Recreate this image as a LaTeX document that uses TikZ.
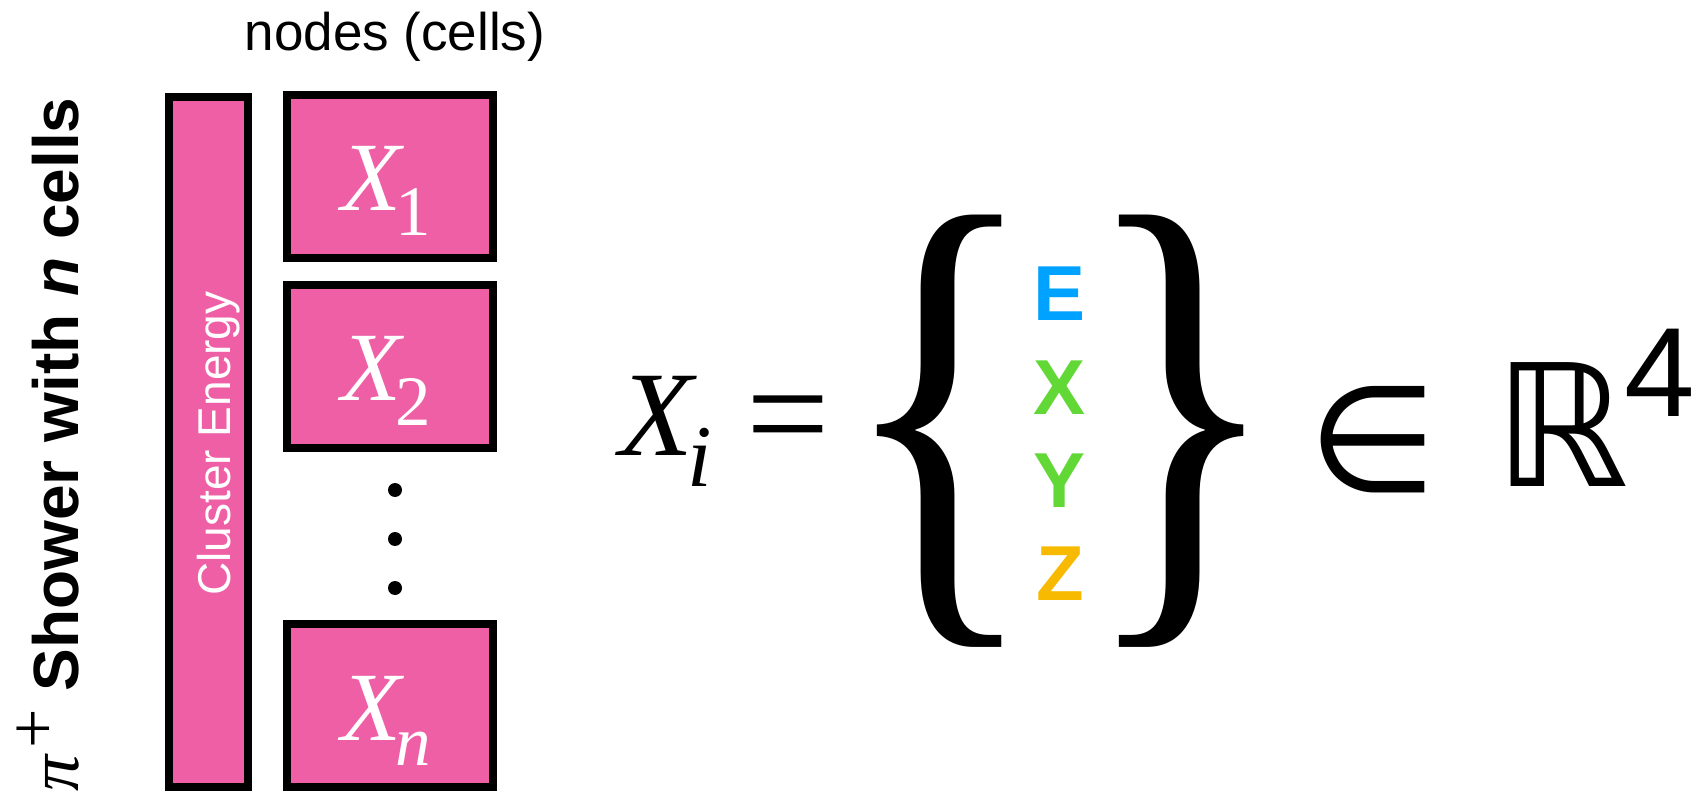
\documentclass[tikz,border=0pt]{standalone}
\usepackage{fontspec}
\setmainfont{Liberation Sans}
\newfontfamily\tms{Liberation Serif}
\newfontfamily\djv{DejaVu Sans}
\usetikzlibrary{positioning}

\definecolor{cellpink}{RGB}{239,95,166}
\definecolor{eblue}{RGB}{0,162,255}
\definecolor{xygreen}{RGB}{97,216,54}
\definecolor{zorange}{RGB}{248,186,0}

\newcommand{\fsz}[1]{\fontsize{#1}{#1}\selectfont}
\newcommand{\cellx}[1]{{\tms\fsz{98}\itshape X\kern-6pt\raisebox{-25pt}{\fsz{71}#1}}}

\begin{document}
\begin{tikzpicture}[x=1pt,y=-1pt,
  cell/.style={draw,line width=8pt,fill=cellpink,inner sep=0pt,minimum width=206pt,minimum height=163pt},
  bar/.style={draw,line width=8pt,fill=cellpink,inner sep=0pt,minimum width=79pt,minimum height=690pt},
  lbl/.style={inner sep=0pt,anchor=base},
  dotn/.style={circle,fill,inner sep=0pt,minimum size=14pt},
  comp/.style={inner sep=0pt,anchor=base,font=\fsz{78}\bfseries}]
  \useasboundingbox (0,0) rectangle (1695,791);

  %left
  \node[lbl,rotate=90,anchor=base west] (title) at (78,792)
    {{\tms\fsz{72}\itshape π}\kern7pt\raisebox{22pt}{\tms\fsz{70}+}\fsz{64}\bfseries\ Shower with \textit{n} cells};
  \node[bar] (energy) at (208.5,442) {};
  \node[lbl,rotate=90,text=white,font=\fsz{46}] (energylbl) at (230,443.5) {Cluster Energy};

  %cells
  \node[lbl,font=\fsz{53}] (head) at (395,51) {nodes (cells)};
  \node[cell] (c1) at (390,176.5) {};
  \node[cell] (c2) at (390,366.5) {};
  \node[cell] (cn) at (390,705.5) {};
  \node[lbl,text=white] (x1) at (386,211) {\cellx{\upshape 1}};
  \node[lbl,text=white] (x2) at (386,401) {\cellx{\upshape 2}};
  \node[lbl,text=white] (xn) at (386,740) {\cellx{n}};
  \foreach \k/\yy in {1/490,2/539,3/588}
    \node[dotn] (dot\k) at (395,\yy) {};

  %right
  \node[inner sep=0pt,anchor=base west] (xi) at (619,456)
    {\tms\itshape\fsz{121}X\kern-6pt\raisebox{-31pt}{\fsz{88}i}};
  \node[lbl,font=\tms\fsz{148}] (eq) at (788,463) {=};
  \node[inner sep=0pt] (lb) at (939.5,431.5) {\resizebox*{200pt}{431pt}{\tms\{}};
  \node[comp,text=eblue] (ce) at (1060,321) {E};
  \node[comp,text=xygreen] (cx) at (1060,414) {X};
  \node[comp,text=xygreen] (cy) at (1060,507) {Y};
  \node[comp,text=zorange] (cz) at (1060,600) {Z};
  \node[inner sep=0pt] (rb) at (1182,431.5) {\resizebox*{200pt}{431pt}{\tms\}}};
  \node[inner sep=0pt,font=\djv\fsz{148}] (in) at (1372.5,440) {∈};
  \node[inner sep=0pt,font=\djv\fsz{170}] (reals) at (1562,424.5) {ℝ};
  \node[inner sep=0pt,font=\fsz{127}] (dim) at (1659.5,372.5) {4};
\end{tikzpicture}
\end{document}
